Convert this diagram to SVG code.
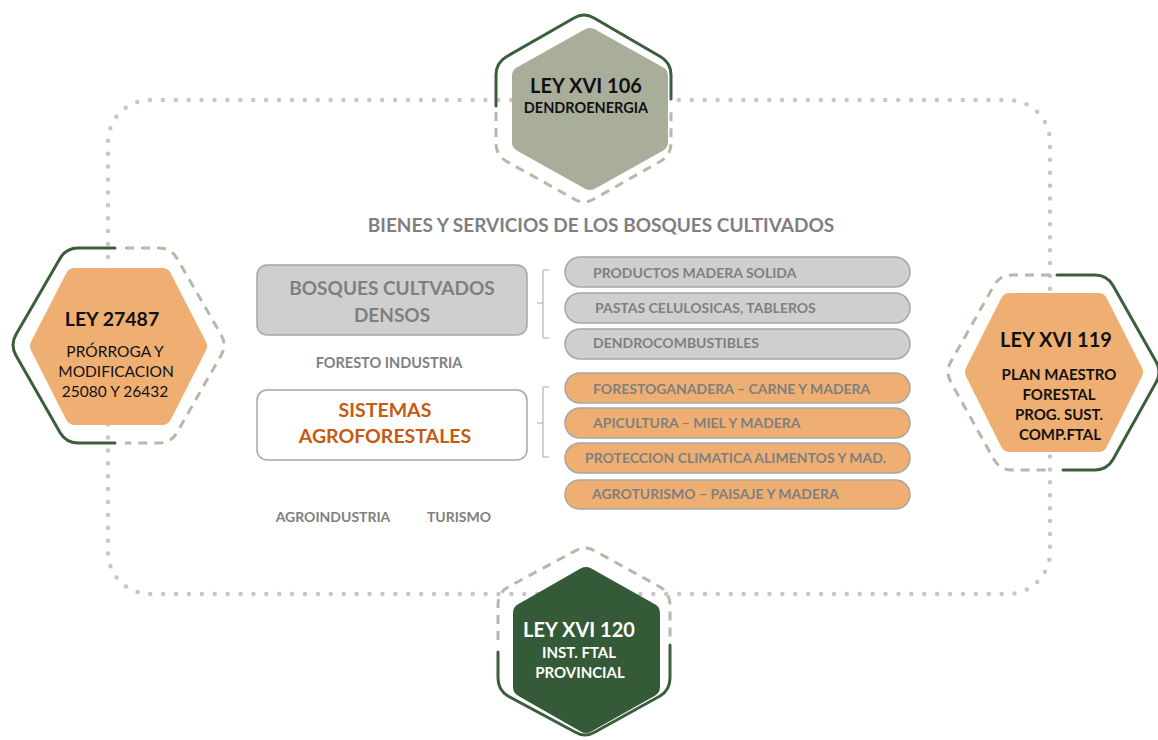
<svg xmlns="http://www.w3.org/2000/svg" width="1158" height="740" viewBox="0 0 1158 740">
<style>
text{font-family:Lato,"Liberation Sans",sans-serif;font-weight:bold;text-anchor:middle}
.solid{fill:none;stroke:#3B5E3B;stroke-width:3;stroke-linecap:round;stroke-linejoin:round}
.dash{fill:none;stroke:#B6B9A7;stroke-width:3;stroke-dasharray:9 7}
.hexo{fill:#EFAF73;stroke:#EFAF73;stroke-width:20;stroke-linejoin:round}
.pillg{fill:#D0CFCF;stroke:#A6A6A6;stroke-width:1.5}
.pillo{fill:#EFAF73;stroke:#A6A6A6;stroke-width:1.5}
.pt{fill:#7F7F7F;font-size:14px;text-anchor:start}
.gt{fill:#7F7F7F}
.bk{fill:#111}
.rg{font-weight:normal}
</style>
<rect width="1158" height="740" fill="#fff"/>
<g id="connectors">
<rect x="108" y="100" width="942" height="494" rx="42" fill="none" stroke="#C6C6C6" stroke-width="4.5" stroke-linecap="round" stroke-dasharray="0 12.9"/>
<path d="M549,270 L543,270 L543,338 L549,338 M543,303 L537,303 M549,387 L543,387 L543,457 L549,457 M543,423 L537,423" fill="none" stroke="#A6A6A6" stroke-width="1"/>
</g>
<g id="node-top">
<path class="solid" d="M496,106 L496,75 Q496,63 506,57 L574,18 Q584,12 594,18 L661,57 Q671,63 671,75 L671,99"/>
<path class="dash" d="M496,112 L496,143 Q496,155 506,161 L574,199 Q584,205 594,199 L661,161 Q671,155 671,143 L671,112"/>
<polygon points="590,38 658,76 658,142 590,180 522,142 522,76" fill="#A9AE9B" stroke="#A9AE9B" stroke-width="20" stroke-linejoin="round"/>
<text class="bk" x="586" y="93" font-size="20">LEY XVI 106</text>
<text class="bk" x="586" y="113" font-size="14.5">DENDROENERGIA</text>
</g>
<g id="node-left">
<path class="solid" d="M115,248 L78,248 Q66,248 60,258.4 L16,334.6 Q10,345 16,355.4 L60,432.6 Q66,443 78,443 L115,443"/>
<path class="dash" d="M125,248 L159,248 Q171,248 177,258.4 L221,334.6 Q227,345 221,355.4 L177,432.6 Q171,443 159,443 L125,443"/>
<polygon class="hexo" points="40,346 75,278 162,278 197,346 162,415 75,415"/>
<text class="bk" x="112" y="326" font-size="19.5">LEY 27487</text>
<text class="bk rg" x="115" y="357" font-size="15.5">PRÓRROGA Y</text>
<text class="bk rg" x="116" y="377" font-size="15.5">MODIFICACION</text>
<text class="bk rg" x="115" y="397" font-size="15.5">25080 Y 26432</text>
</g>
<g id="node-right">
<path class="dash" d="M1050,275 L1012,275 Q1000,275 994,285.4 L951,361.6 Q945,372 951,382.4 L994,459.6 Q1000,470 1012,470 L1050,470"/>
<path class="solid" d="M1057,275 L1095,275 Q1107,275 1113,285.4 L1156,361.6 Q1162,372 1156,382.4 L1113,459.6 Q1107,470 1095,470 L1063,470"/>
<polygon class="hexo" points="975,372 1010,303 1098,303 1133,372 1098,442 1010,442"/>
<text class="bk" x="1056" y="347" font-size="20">LEY XVI 119</text>
<text class="bk" x="1059" y="380" font-size="15">PLAN MAESTRO</text>
<text class="bk" x="1059" y="400" font-size="15">FORESTAL</text>
<text class="bk" x="1059" y="420" font-size="15">PROG. SUST.</text>
<text class="bk" x="1060" y="440" font-size="15">COMP.FTAL</text>
</g>
<g id="node-bottom">
<path class="dash" d="M498,640 L498,605 Q498,593 508,587 L575,551 Q585,545 595,551 L660,587 Q670,593 670,605 L670,640"/>
<path class="solid" d="M498,652 L498,678 Q498,690 508,696 L575,732 Q585,738 595,732 L660,696 Q670,690 670,678 L670,645"/>
<polygon points="586,577 650,613 650,687 586,723 523,687 523,613" fill="#355A37" stroke="#355A37" stroke-width="20" stroke-linejoin="round"/>
<text x="579" y="637" font-size="20" fill="#fff">LEY XVI 120</text>
<text x="579" y="658" font-size="15" fill="#fff">INST. FTAL</text>
<text x="580" y="678" font-size="15" fill="#fff">PROVINCIAL</text>
</g>
<g id="title">
<text class="gt" x="601" y="232" font-size="19">BIENES Y SERVICIOS DE LOS BOSQUES CULTIVADOS</text>
</g>
<g id="box-densos">
<rect x="257" y="265" width="270" height="70" rx="10" fill="#D0CFCF" stroke="#A6A6A6" stroke-width="1.5"/>
<text class="gt" x="392" y="295" font-size="19">BOSQUES CULTVADOS</text>
<text class="gt" x="392" y="322" font-size="19">DENSOS</text>
</g>
<g id="label-foresto"><text class="gt" x="389" y="368" font-size="14.5">FORESTO INDUSTRIA</text></g>
<g id="box-agro">
<rect x="257" y="390" width="270" height="70" rx="10" fill="#fff" stroke="#A6A6A6" stroke-width="1.5"/>
<text x="385" y="417" font-size="19.5" fill="#C55A11">SISTEMAS</text>
<text x="385" y="443" font-size="19.5" fill="#C55A11">AGROFORESTALES</text>
</g>
<g id="label-agroindustria"><text class="gt" x="333" y="522" font-size="14">AGROINDUSTRIA</text></g>
<g id="label-turismo"><text class="gt" x="459" y="522" font-size="14">TURISMO</text></g>
<g id="pill-1"><rect class="pillg" x="565" y="257" width="345" height="30" rx="15"/><text class="pt" x="593" y="278">PRODUCTOS MADERA SOLIDA</text></g>
<g id="pill-2"><rect class="pillg" x="565" y="293" width="345" height="30" rx="15"/><text class="pt" x="595" y="313">PASTAS CELULOSICAS, TABLEROS</text></g>
<g id="pill-3"><rect class="pillg" x="565" y="329" width="345" height="30" rx="15"/><text class="pt" x="593" y="348">DENDROCOMBUSTIBLES</text></g>
<g id="pill-4"><rect class="pillo" x="565" y="373" width="345" height="30" rx="15"/><text class="pt" x="593" y="394">FORESTOGANADERA – CARNE Y MADERA</text></g>
<g id="pill-5"><rect class="pillo" x="565" y="408" width="345" height="30" rx="15"/><text class="pt" x="593" y="428">APICULTURA – MIEL Y MADERA</text></g>
<g id="pill-6"><rect class="pillo" x="565" y="443" width="345" height="30" rx="15"/><text class="pt" x="585" y="463">PROTECCION CLIMATICA ALIMENTOS Y MAD.</text></g>
<g id="pill-7"><rect class="pillo" x="565" y="480" width="345" height="29" rx="14.5"/><text class="pt" x="592" y="499">AGROTURISMO – PAISAJE Y MADERA</text></g>
</svg>
